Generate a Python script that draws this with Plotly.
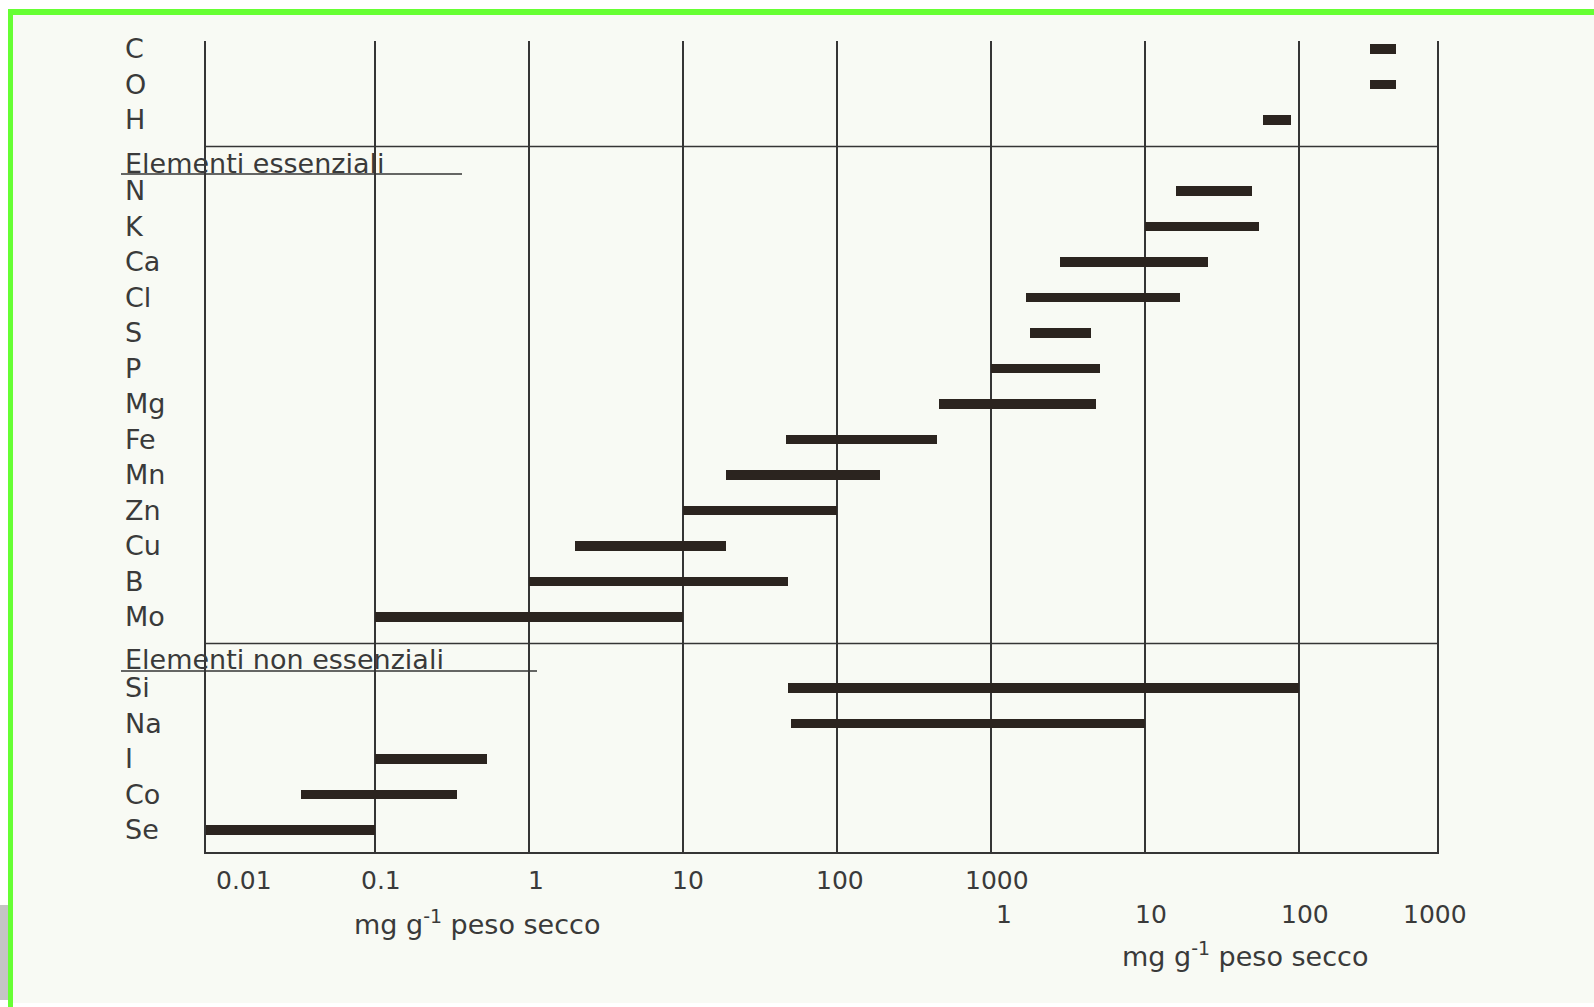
import math
import plotly.graph_objects as go

# ---------------- data (concentrations on the lower scale, "mg g-1" = ug/g) ----------------
top_elements = ["C", "O", "H"]
top_low = [290000, 290000, 59000]
top_high = [430000, 430000, 89000]

essential_header = "Elementi essenziali"
essential = ["N", "K", "Ca", "Cl", "S", "P", "Mg", "Fe", "Mn", "Zn", "Cu", "B", "Mo"]
essential_low = [16000, 10000, 2800, 1700, 1800, 1000, 460, 47, 19, 10, 2, 1, 0.1]
essential_high = [50000, 55000, 26000, 17000, 4500, 5100, 4800, 450, 190, 100, 19, 48, 10]

nonessential_header = "Elementi non essenziali"
nonessential = ["Si", "Na", "I", "Co", "Se"]
nonessential_low = [48, 50, 0.1, 0.033, 0.0079]
nonessential_high = [100000, 10000, 0.53, 0.34, 0.1]

tick_values_1 = [0.01, 0.1, 1, 10, 100, 1000]
tick_labels_1 = ["0.01", "0.1", "1", "10", "100", "1000"]
tick_values_2 = [1000, 10000, 100000, 1000000]
tick_labels_2 = ["1", "10", "100", "1000"]
axis_title = "mg g<sup>-1</sup> peso secco"

# ---------------- build row order ----------------
rows = top_elements + [essential_header] + essential + [nonessential_header] + nonessential
elements = top_elements + essential + nonessential
lows = top_low + essential_low + nonessential_low
highs = top_high + essential_high + nonessential_high
pos = [rows.index(e) for e in elements]
hdr_pos = [rows.index(essential_header), rows.index(nonessential_header)]

# ---------------- style ----------------
W, H = 1594, 1007
L, R, T, B = 206, 157, 41, 155
PW, PH = W - L - R, H - T - B
XR = [-2.1, 5.9]
FONT = "DejaVu Sans"
TXT = "#3a3a3a"
LINE = "#353535"
BAR = "#2b241f"

def px2x(px):
    return (px - L) / PW

def py2y(py):
    return (H - B - py) / PH

def val2paper(v):
    return (math.log10(v) - XR[0]) / (XR[1] - XR[0])

fig = go.Figure()
fig.add_trace(go.Bar(
    orientation="h",
    y=pos,
    base=lows,
    x=[h - l for l, h in zip(lows, highs)],
    width=0.28,
    marker=dict(color=BAR, line=dict(width=0)),
    hovertext=elements,
    showlegend=False,
))

ann = []
for e, p in zip(elements, pos):
    ann.append(dict(x=0, xref="paper", y=p, yref="y", text=e, showarrow=False,
                    xanchor="left", yanchor="middle", xshift=-83,
                    font=dict(family=FONT, size=27, color=TXT)))
for txt, p, ys in zip([essential_header, nonessential_header], hdr_pos, [-8, -7]):
    ann.append(dict(x=0, xref="paper", y=p, yref="y", text=txt, showarrow=False,
                    xanchor="left", yanchor="middle", xshift=-83, yshift=ys,
                    font=dict(family=FONT, size=27, color=TXT)))

shift1 = [23, 6, 7, 5, 3, 6]
for v, t, s in zip(tick_values_1, tick_labels_1, shift1):
    ann.append(dict(x=val2paper(v), xref="paper", y=0, yref="paper", text=t, showarrow=False,
                    xanchor="center", yanchor="middle", xshift=s, yshift=-28,
                    font=dict(family=FONT, size=25, color=TXT)))
shift2 = [13, 6, 6, -17]
for v, t, s in zip(tick_values_2, tick_labels_2, shift2):
    ann.append(dict(x=val2paper(v), xref="paper", y=0, yref="paper", text=t, showarrow=False,
                    xanchor="center", yanchor="middle", xshift=s, yshift=-62,
                    font=dict(family=FONT, size=25, color=TXT)))
ann.append(dict(x=px2x(477), xref="paper", y=0, yref="paper", text=axis_title, showarrow=False,
                xanchor="center", yanchor="middle", yshift=-70,
                font=dict(family=FONT, size=27, color=TXT)))
ann.append(dict(x=px2x(1245), xref="paper", y=0, yref="paper", text=axis_title, showarrow=False,
                xanchor="center", yanchor="middle", yshift=-102,
                font=dict(family=FONT, size=27, color=TXT)))

shapes = [
    # scanned page background
    dict(type="rect", xref="paper", yref="paper", x0=px2x(0), x1=px2x(W), y0=py2y(H), y1=py2y(0),
         fillcolor="#ffffff", line=dict(width=0), layer="below"),
    dict(type="rect", xref="paper", yref="paper", x0=px2x(13), x1=px2x(W), y0=py2y(1003), y1=py2y(15),
         fillcolor="#f8faf4", line=dict(width=0), layer="below"),
    dict(type="rect", xref="paper", yref="paper", x0=px2x(0), x1=px2x(8), y0=py2y(1000), y1=py2y(905),
         fillcolor="#c4c4c4", line=dict(width=0), layer="below"),
    # green frame
    dict(type="rect", xref="paper", yref="paper", x0=px2x(8), x1=px2x(W), y0=py2y(15), y1=py2y(9),
         fillcolor="#66ff33", line=dict(width=0), layer="above"),
    dict(type="rect", xref="paper", yref="paper", x0=px2x(8), x1=px2x(13), y0=py2y(H), y1=py2y(9),
         fillcolor="#66ff33", line=dict(width=0), layer="above"),
]
# group separators and header underlines
under_end = [462, 537]
for p, ue in zip(hdr_pos, under_end):
    shapes.append(dict(type="line", xref="paper", x0=0, x1=1, yref="y", y0=p - 0.25, y1=p - 0.25,
                       line=dict(color=LINE, width=1.5)))
    shapes.append(dict(type="line", xref="paper", x0=px2x(121), x1=px2x(ue), yref="y",
                       y0=p + 0.52, y1=p + 0.52, line=dict(color=LINE, width=1.5)))

fig.update_layout(
    width=W, height=H,
    margin=dict(l=L, r=R, t=T, b=B, pad=0),
    paper_bgcolor="#ffffff",
    plot_bgcolor="rgba(0,0,0,0)",
    annotations=ann,
    shapes=shapes,
    bargap=0,
    xaxis=dict(type="log", range=XR, tickvals=[0.1, 1, 10, 100, 1000, 1e4, 1e5],
               showgrid=True, gridcolor=LINE, gridwidth=2, showticklabels=False, ticks="",
               showline=True, linecolor=LINE, linewidth=2, mirror=False, zeroline=False),
    yaxis=dict(range=[22.62, -0.225], showgrid=False, showticklabels=False, ticks="",
               showline=True, linecolor=LINE, linewidth=2, mirror=True, zeroline=False),
    hovermode=False,
)

fig.write_html("out.html", config={"displayModeBar": False},
               post_script="document.body.style.margin='0';document.body.style.padding='0';")
